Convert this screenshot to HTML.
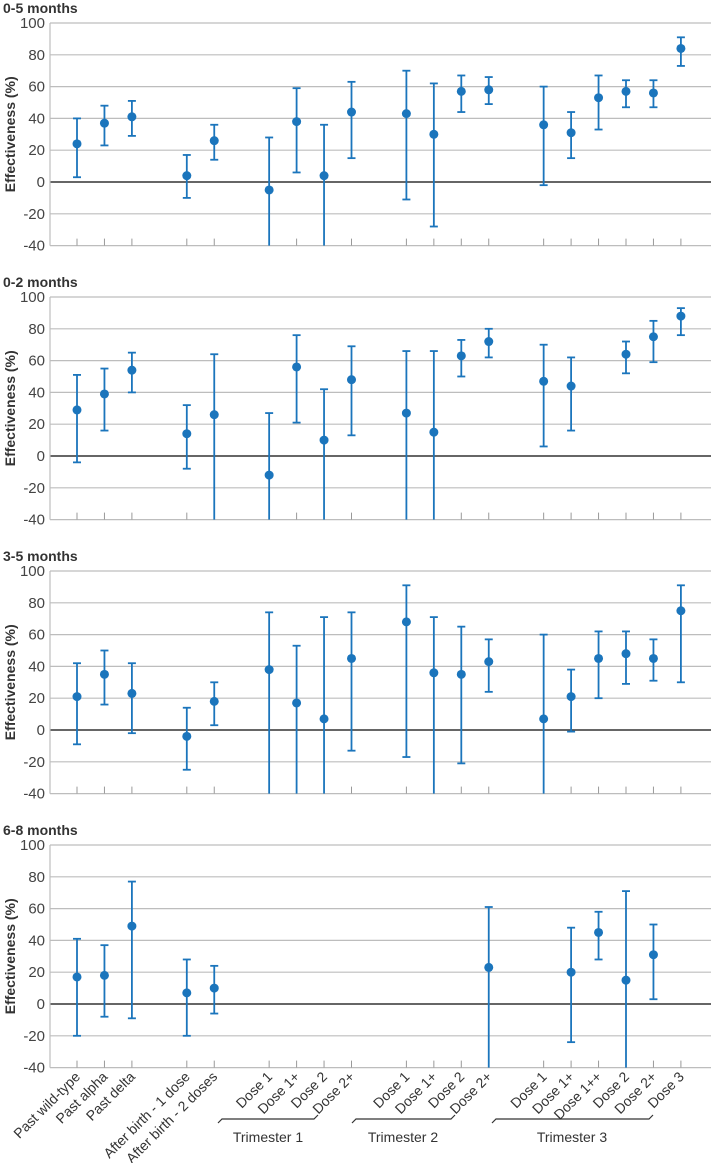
<!DOCTYPE html>
<html><head><meta charset="utf-8"><style>
body{margin:0;background:#fff;}
svg{display:block;font-family:"Liberation Sans",sans-serif;}
</style></head><body>
<svg id="chart" width="711" height="1163" viewBox="0 0 711 1163"></svg>
<script>
const slots=[0,1,2,4,5,7,8,9,10,12,13,14,15,17,18,19,20,21,22];
const categories=["Past wild-type","Past alpha","Past delta","After birth - 1 dose","After birth - 2 doses","Dose 1","Dose 1+","Dose 2","Dose 2+","Dose 1","Dose 1+","Dose 2","Dose 2+","Dose 1","Dose 1+","Dose 1++","Dose 2","Dose 2+","Dose 3"];
const panelTitles=["0-5 months","0-2 months","3-5 months","6-8 months"];
const yTicks=[100,80,60,40,20,0,-20,-40];
// per panel: estimate, lower, upper (null = no data)
const est1=[24,37,41,4,26,-5,38,4,44,43,30,57,58,36,31,53,57,56,84];
const lo1=[3,23,29,-10,14,-40,6,-40,15,-11,-28,44,49,-2,15,33,47,47,73];
const hi1=[40,48,51,17,36,28,59,36,63,70,62,67,66,60,44,67,64,64,91];
const est2=[29,39,54,14,26,-12,56,10,48,27,15,63,72,47,44,null,64,75,88];
const lo2=[-4,16,40,-8,-40,-40,21,-40,13,-40,-40,50,62,6,16,null,52,59,76];
const hi2=[51,55,65,32,64,27,76,42,69,66,66,73,80,70,62,null,72,85,93];
const est3=[21,35,23,-4,18,38,17,7,45,68,36,35,43,7,21,45,48,45,75];
const lo3=[-9,16,-2,-25,3,-40,-40,-40,-13,-17,-40,-21,24,-40,-1,20,29,31,30];
const hi3=[42,50,42,14,30,74,53,71,74,91,71,65,57,60,38,62,62,57,91];
const est4=[17,18,49,7,10,null,null,null,null,null,null,null,23,null,20,45,15,31,null];
const lo4=[-20,-8,-9,-20,-6,null,null,null,null,null,null,null,-40,null,-24,28,-40,3,null];
const hi4=[41,37,77,28,24,null,null,null,null,null,null,null,61,null,48,58,71,50,null];
const estimates=[est1,est2,est3,est4], lowers=[lo1,lo2,lo3,lo4], uppers=[hi1,hi2,hi3,hi4];
const trimesters=["Trimester 1","Trimester 2","Trimester 3"];

const NS="http://www.w3.org/2000/svg";
const svg=document.getElementById('chart');
function mk(tag,attrs,parent){const e=document.createElementNS(NS,tag);for(const k in attrs)e.setAttribute(k,attrs[k]);(parent||svg).appendChild(e);return e;}
const X0=50,X1=711,BLUE="#1b75bc";
function xPos(s){return 77+s*27.45;}
function yPos(p,v){const top=23+p*274;return top+(100-v)*(159/100);}

for(let p=0;p<4;p++){
  const g=mk('g',{});
  
  
  const t=mk('text',{x:3,y:13+p*274,'font-size':14,'font-weight':'bold',fill:'#333'},g);t.textContent=panelTitles[p];
  
  
  yTicks.forEach(v=>{
    const y=yPos(p,v);
    const l=mk('line',{x1:X0,x2:X1,y1:y,y2:y,stroke:v===0?'#333':'#bdbdbd','stroke-width':v===0?1.4:1.2},g);
    
    
    const tx=mk('text',{x:45,y:y+5,'font-size':15,'text-anchor':'end',fill:'#444'},g);tx.textContent=v;
    
    
  });
  const yb=yPos(p,-40);
  mk('line',{x1:X0,x2:X0,y1:yPos(p,100),y2:yb,stroke:'#bdbdbd','stroke-width':1.2},g);
  slots.forEach(s=>{mk('line',{x1:xPos(s),x2:xPos(s),y1:yb-7,y2:yb,stroke:'#999','stroke-width':1},g);});
  const yt=mk('text',{x:0,y:0,'font-size':14,'font-weight':'bold',fill:'#333','text-anchor':'middle',transform:`translate(15,${yPos(p,30)}) rotate(-90)`},g);
  yt.textContent="Effectiveness (%)";
  
  
  const E=estimates[p],L=lowers[p],H=uppers[p];
  for(let i=0;i<slots.length;i++){
    if(E[i]===null)continue;
    const x=xPos(slots[i]);
    const lo=Math.max(L[i],-40);
    const pg=mk('g',{},g);
    
    
    mk('line',{x1:x,x2:x,y1:yPos(p,H[i]),y2:yPos(p,lo),stroke:BLUE,'stroke-width':1.8},pg);
    mk('line',{x1:x-4,x2:x+4,y1:yPos(p,H[i]),y2:yPos(p,H[i]),stroke:BLUE,'stroke-width':1.8},pg);
    if(L[i]>-40)mk('line',{x1:x-4,x2:x+4,y1:yPos(p,lo),y2:yPos(p,lo),stroke:BLUE,'stroke-width':1.8},pg);
    mk('circle',{cx:x,cy:yPos(p,E[i]),r:4.5,fill:BLUE},pg);
  }
}
// x labels
const yl=yPos(3,-40)+10;
for(let i=0;i<slots.length;i++){
  const x=xPos(slots[i])+4;
  const t=mk('text',{x:0,y:0,'font-size':14,'text-anchor':'end',fill:'#333',transform:`translate(${x},${yl}) rotate(-45)`});
  t.textContent=categories[i];
  
  
}
const br=[[218,318,268],[352,455,403],[492,653,572]];
br.forEach((b,i)=>{
  const pa=mk('path',{d:`M${b[0]},1123 L${b[0]+4},1119 L${b[1]-4},1119 L${b[1]},1115`,stroke:'#333','stroke-width':1.2,fill:'none'});
  
  
  const t=mk('text',{x:b[2],y:1142,'font-size':14,'text-anchor':'middle',fill:'#333'});
  t.textContent=trimesters[i];
  
  
});
</script>
</body></html>
